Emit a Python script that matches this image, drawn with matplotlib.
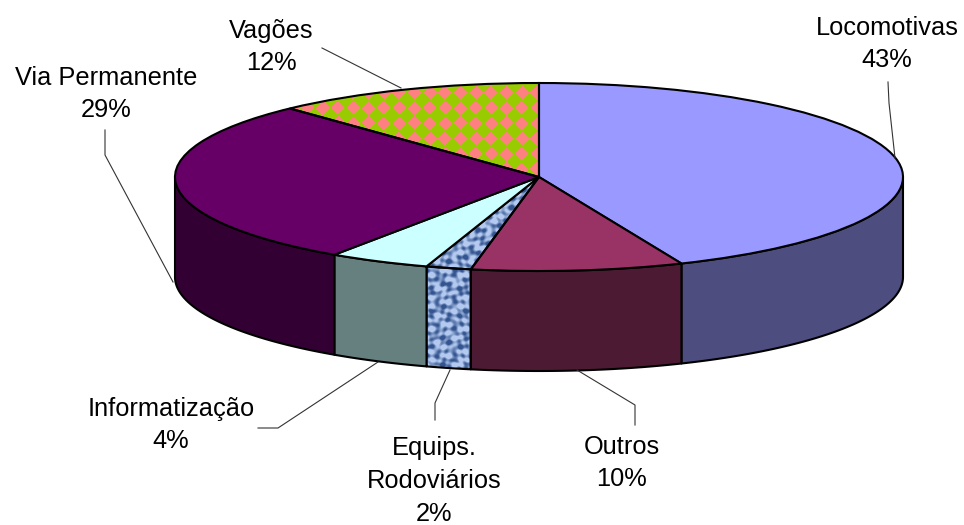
import numpy as np
import matplotlib
matplotlib.use("Agg")
import matplotlib.pyplot as plt
from matplotlib.patches import Polygon

plt.rcParams["font.family"] = ["Liberation Sans", "DejaVu Sans"]

labels = ["Locomotivas", "Outros", "Equips.\nRodoviários", "Informatização", "Via Permanente", "Vagões"]
percents = ["43%", "10%", "2%", "4%", "29%", "12%"]
values = [43.6, 9.4, 2.0, 4.5, 28.5, 12.0]
top_colors = ["#9999FF", "#993366", "#9DB5E6", "#CCFFFF", "#660066", "#99CC00"]
side_colors = ["#4D4D80", "#4D1A33", "#9DB5E6", "#668080", "#330033", "#4D6600"]
label_pos = [(887, 44), (622, 463), (434, 481), (171, 425), (106, 94), (271, 47)]
leaders = [
    [(888, 82), (889, 103), (895, 158)],
    [(635, 425), (635, 405), (577, 370)],
    [(435, 420), (435, 403), (450, 370)],
    [(258, 428), (278, 428), (378, 362)],
    [(105, 130), (105, 155), (173, 282)],
    [(322, 48), (401, 88)],
]

W, H = 964, 525
CX, CY, RX, RY, DEPTH = 539, 177, 364, 94, 100


def checker(p=15.3):
    y, x = np.mgrid[0:H, 0:W]
    # pink diamonds on a green ground, phase
    dx = ((x - 460) / p + 0.5) % 1 - 0.5
    dy = ((y - 92) / p + 0.5) % 1 - 0.5
    img = np.zeros((H, W, 3))
    img[:] = matplotlib.colors.to_rgb("#99CC00")
    img[np.abs(dx) + np.abs(dy) < 0.46] = matplotlib.colors.to_rgb("#FF8080")
    return img


def denim():
    y, x = np.mgrid[0:H, 0:W]
    s = (np.sin(x * 0.55) * np.sin(y * 0.23 + np.sin(x * 0.17) * 2)
         + np.sin(y * 0.7 + 1) * np.sin(x * 0.19 + np.sin(y * 0.13) * 2))
    s = np.clip((s + 1.0) / 1.6, 0, 1)[..., None]
    light = np.array(matplotlib.colors.to_rgb("#B4CAF0"))
    dark = np.array(matplotlib.colors.to_rgb("#34558F"))
    return dark * (1 - s) + light * s


fig = plt.figure(figsize=(W / 100, H / 100), dpi=100)
ax = fig.add_axes([0, 0, 1, 1])
wedges, _ = ax.pie(values, colors=top_colors, startangle=90, counterclock=False,
                   wedgeprops={"edgecolor": "black", "linewidth": 1.5, "zorder": 4})

# one pie unit = RX px across, RY px down, that is what flattens the pie
xlim = (-CX / RX, (W - CX) / RX)
ylim = ((CY - H) / RY, CY / RY)
extent = (xlim[0], xlim[1], ylim[0], ylim[1])
d = DEPTH / RY

edges = np.cumsum([0] + values) * 3.6
for i in range(len(values)):
    a, b = max(edges[i], 90), min(edges[i + 1], 270)
    if a >= b:
        continue
    t = np.radians(np.linspace(a, b, 80))
    xs, ys = np.sin(t), np.cos(t)
    pts = np.r_[np.c_[xs, ys], np.c_[xs[::-1], ys[::-1] - d]]
    side = Polygon(pts, closed=True, facecolor=side_colors[i], edgecolor="black",
                   linewidth=1.5, joinstyle="round", zorder=3)
    ax.add_patch(side)
    if labels[i].startswith("Equips"):
        side.set_facecolor("none")
        im = ax.imshow(denim(), extent=extent, aspect="auto", zorder=2)
        im.set_clip_path(side)

# textured tops
for i, img in [(2, denim()), (5, checker())]:
    wedges[i].set_facecolor("none")
    im = ax.imshow(img, extent=extent, aspect="auto", zorder=2, interpolation="nearest")
    im.set_clip_path(wedges[i])

ax.set_aspect("auto")
ax.set_xlim(xlim)
ax.set_ylim(ylim)
ax.axis("off")

ov = fig.add_axes([0, 0, 1, 1])
ov.set_xlim(0, W)
ov.set_ylim(H, 0)
ov.axis("off")
ov.patch.set_alpha(0)

for name, pct, (x, y), line in zip(labels, percents, label_pos, leaders):
    ov.text(x, y, f"{name}\n{pct}", ha="center", va="center", fontsize=18.3,
            linespacing=1.47, color="black")
    ov.plot(*zip(*line), color="#333333", lw=0.8)

fig.savefig("out.png", dpi=100, facecolor="white")
